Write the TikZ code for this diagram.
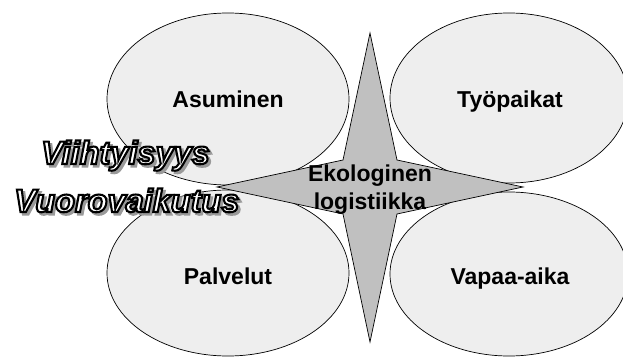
\documentclass[tikz,border=0pt]{standalone}
\usepackage{fontspec}
\setmainfont{Liberation Sans}
\usetikzlibrary{calc}
\definecolor{bubble}{HTML}{EEEEEE}
\definecolor{starfill}{HTML}{C0C0C0}
\definecolor{shadowgray}{HTML}{9A9A9A}
\tikzset{
  area/.style={draw=black, line width=0.7pt, fill=bubble},
  label/.style={font=\fontsize{23}{26}\selectfont\bfseries, anchor=base, inner sep=0pt},
  core/.style={draw=black, line width=0.7pt, fill=starfill},
  outlined/.style={font=\fontsize{32.5}{36}\selectfont\bfseries\itshape, anchor=base west, inner sep=0pt},
}
% white letters with a black rim (fill and stroke text rendering)
\newcommand{\rimtext}[1]{\textcolor{white}{\special{pdf:literal direct 0 G 2 Tr 2.1 w}#1\special{pdf:literal direct 0 Tr}}}
% grey letters, slightly thickened, for the drop shadow
\newcommand{\shadetext}[1]{\textcolor{shadowgray}{\special{pdf:literal direct 2 Tr 2.1 w}#1\special{pdf:literal direct 0 Tr}}}
\begin{document}
\begin{tikzpicture}[x=1pt,y=1pt]
\useasboundingbox (0,0) rectangle (623,356);
\begin{scope}
\clip (0,0) rectangle (623,356);
% four areas
\draw[area] (228,257) ellipse [x radius=121, y radius=86];
\draw[area] (509,258) ellipse [x radius=119, y radius=85];
\draw[area] (228,83) ellipse [x radius=121, y radius=83];
\draw[area] (509,82) ellipse [x radius=119, y radius=82];
\end{scope}
% four-pointed star in the middle
\coordinate (c) at (370,169);
\draw[core] ($(c)+(0,154)$) -- ($(c)+(27,27)$) -- ($(c)+(153,0)$) -- ($(c)+(27,-27)$)
  -- ($(c)+(0,-155)$) -- ($(c)+(-27,-27)$) -- ($(c)+(-153,0)$) -- ($(c)+(-27,27)$) -- cycle;
% labels
\node[label] (asu) at (228,248) {Asuminen};
\node[label] (tyo) at (510,248) {Työpaikat};
\node[label] (pal) at (228,71) {Palvelut};
\node[label] (vap) at (510,71) {Vapaa-aika};
\node[label] (eko) at (370,174) {Ekologinen};
\node[label] (log) at (370,146) {logistiikka};
% outlined words with drop shadow
\node[outlined] (viishadow) at (43.5,189.5) {\shadetext{Viihtyisyys}};
\node[outlined] (vii) at (41,192) {\rimtext{Viihtyisyys}};
\node[outlined] (vuoshadow) at (16.5,141.5) {\shadetext{Vuorovaikutus}};
\node[outlined] (vuo) at (14,144) {\rimtext{Vuorovaikutus}};
\end{tikzpicture}
\end{document}
